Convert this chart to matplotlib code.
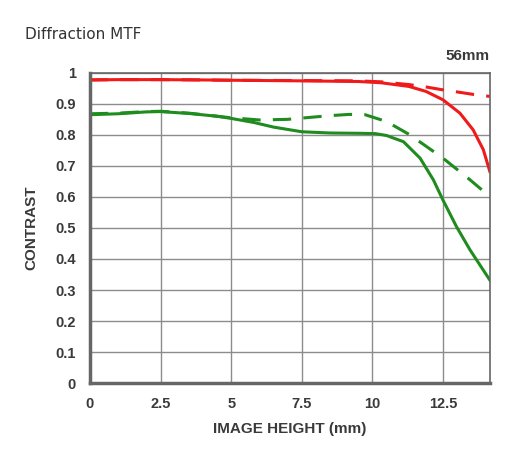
import matplotlib
matplotlib.use("Agg")
import matplotlib.pyplot as plt

# contrast vs image height (mm)
red_solid_x = [0, 1, 2.5, 4, 5, 7.5, 9.5, 10.3, 11.3, 11.9, 12.5, 13.1, 13.57, 13.93, 14.16]
red_solid_y = [0.977, 0.978, 0.978, 0.977, 0.976, 0.974, 0.972, 0.968, 0.956, 0.940, 0.913, 0.870, 0.816, 0.752, 0.682]

red_dash_x = [0, 1, 2.5, 4, 5, 7.5, 9.5, 10.3, 10.74, 11.3, 11.92, 12.5, 13.1, 13.6, 14.16]
red_dash_y = [0.977, 0.978, 0.978, 0.977, 0.976, 0.975, 0.974, 0.971, 0.967, 0.962, 0.954, 0.945, 0.937, 0.930, 0.924]

green_solid_x = [0, 1, 2, 2.5, 3.5, 4.5, 5, 5.8, 6.5, 7.5, 8.5, 9.56, 10.1, 10.5, 11.1, 11.69, 12.16, 12.5, 12.98, 13.46, 14.16]
green_solid_y = [0.865, 0.868, 0.874, 0.875, 0.869, 0.860, 0.853, 0.840, 0.825, 0.810, 0.806, 0.805, 0.804, 0.798, 0.778, 0.725, 0.655, 0.590, 0.504, 0.429, 0.332]

green_dash_x = [0, 1, 2, 2.5, 3.5, 4.5, 5, 6, 7, 7.5, 8.5, 9.2, 9.74, 10.5, 11.33, 12.5, 13.46, 14.16]
green_dash_y = [0.868, 0.870, 0.875, 0.876, 0.870, 0.860, 0.855, 0.848, 0.850, 0.854, 0.862, 0.866, 0.865, 0.843, 0.800, 0.725, 0.655, 0.601]

x_ticks = [0, 2.5, 5, 7.5, 10, 12.5]
x_labels = ["0", "2.5", "5", "7.5", "10", "12.5"]
y_ticks = [0, 0.1, 0.2, 0.3, 0.4, 0.5, 0.6, 0.7, 0.8, 0.9, 1]
y_labels = ["0", "0.1", "0.2", "0.3", "0.4", "0.5", "0.6", "0.7", "0.8", "0.9", "1"]

RED = "#f01a1a"
GREEN = "#1e8c1e"
TXT = "#3a3a3a"

plt.rcParams["font.family"] = ["Liberation Sans", "DejaVu Sans"]

fig = plt.figure(figsize=(5.2, 4.55), dpi=100)
ax = fig.add_axes([0.173, 0.158, 0.769, 0.682])

ax.plot(red_solid_x, red_solid_y, color=RED, lw=2.2, solid_joinstyle="round")
ax.plot(red_dash_x, red_dash_y, color=RED, lw=2.2, dashes=(6, 4))
ax.plot(green_solid_x, green_solid_y, color=GREEN, lw=2.2, solid_joinstyle="round")
ax.plot(green_dash_x, green_dash_y, color=GREEN, lw=2.2, dashes=(6, 4))

ax.set_xlim(0, 14.16)
ax.set_ylim(0, 1)
ax.set_xticks(x_ticks)
ax.set_xticklabels(x_labels)
ax.set_yticks(y_ticks)
ax.set_yticklabels(y_labels)
ax.tick_params(length=0, labelsize=10.5, labelcolor=TXT, pad=10)
for lab in ax.get_xticklabels() + ax.get_yticklabels():
    lab.set_fontweight("bold")
ax.grid(True, color="#8c8c8c", lw=1)
ax.set_axisbelow(True)

for side in ["top", "right"]:
    ax.spines[side].set_color("#666666")
    ax.spines[side].set_linewidth(1.2)
for side in ["left", "bottom"]:
    ax.spines[side].set_color("#666666")
    ax.spines[side].set_linewidth(2.5)

ax.set_xlabel("IMAGE HEIGHT (mm)", fontsize=11, color=TXT, fontweight="bold", labelpad=8)
ax.set_ylabel("CONTRAST", fontsize=11, color=TXT, fontweight="bold", labelpad=12)

fig.text(0.048, 0.915, "Diffraction MTF", fontsize=11, color="#333333",
         family=["DejaVu Sans"])
ax.text(1.0, 1.03, "56mm", transform=ax.transAxes, ha="right", va="bottom",
        fontsize=11, color=TXT, fontweight="bold")

fig.savefig("out.png", dpi=100, facecolor="white")
